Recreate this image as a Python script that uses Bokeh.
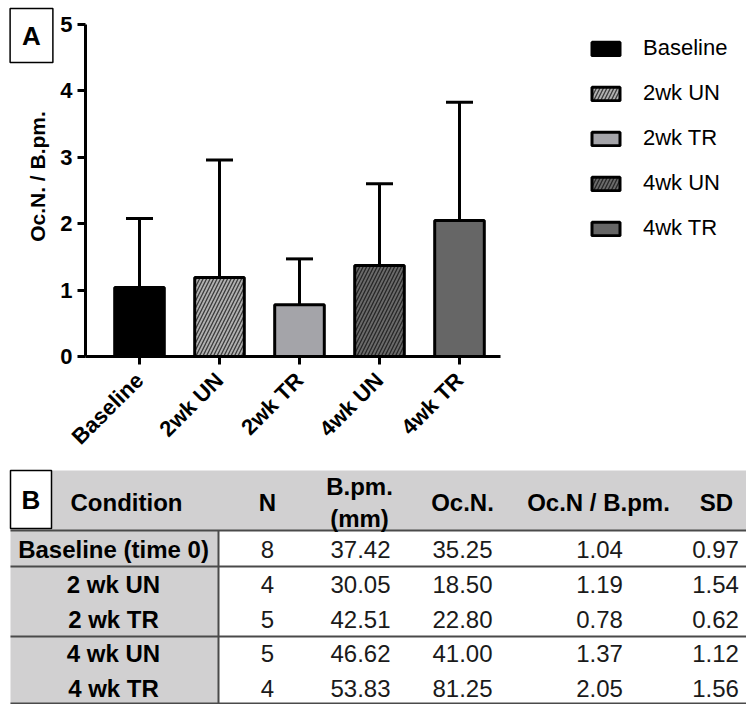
from math import pi
from bokeh.plotting import figure
from bokeh.models import (ColumnDataSource, Range1d, FixedTicker, Whisker, TeeHead,
                          Legend, LegendItem, Label)
from bokeh.embed import file_html
from bokeh.resources import INLINE
from bokeh.core.properties import value

# ---------------- data ----------------
categories = ["Baseline", "2wk UN", "2wk TR", "4wk UN", "4wk TR"]
means = [1.04, 1.19, 0.78, 1.37, 2.05]
err_top = [2.08, 2.96, 1.47, 2.60, 3.83]
y_ticks = [0, 1, 2, 3, 4, 5]

fill_colors = ["#000000", "#b0b0b0", "#a4a4a9", "#6a6a6a", "#666666"]
hatches = [" ", "/", " ", "/", " "]
hatch_colors = ["#000000", "#3a3a3a", "#000000", "#262626", "#000000"]

conditions = ["Baseline (time 0)", "2 wk UN", "2 wk TR", "4 wk UN", "4 wk TR"]
n_vals = [8, 4, 5, 5, 4]
bpm_vals = [37.42, 30.05, 42.51, 46.62, 53.83]
ocn_vals = [35.25, 18.50, 22.80, 41.00, 81.25]
ratio_vals = [1.04, 1.19, 0.78, 1.37, 2.05]
sd_vals = [0.97, 1.54, 0.62, 1.12, 1.56]
headers = ["Condition", "N", "B.pm.\n(mm)", "Oc.N.", "Oc.N / B.pm.", "SD"]

FONT = "Liberation Sans"

# ---------------- chart (A) ----------------
xs = list(range(len(categories)))
src = ColumnDataSource(dict(x=xs, top=means, upper=err_top, fill=fill_colors,
                            hatch=hatches, hcol=hatch_colors))

W, CH = 746, 468
AX_X, AX_Y0, AX_Y5 = 85, 356, 24          # pixel positions of the axes
PX_X = 80.0                               # px per category
PX_Y = (AX_Y0 - AX_Y5) / 5.0              # px per y unit
x0 = -0.675                               # where the y axis sits (data)
xr = Range1d(x0 - AX_X / PX_X, x0 + (W - AX_X) / PX_X)
yr = Range1d(-(CH - AX_Y0) / PX_Y, 5 + AX_Y5 / PX_Y)

p = figure(width=W, height=CH, x_range=xr, y_range=yr,
           toolbar_location=None, output_backend="svg", min_border=0)
p.outline_line_color = None
p.grid.visible = False

r = p.vbar(x="x", top="top", bottom=0, width=0.62, source=src,
           fill_color="fill", hatch_pattern="hatch", hatch_color="hcol",
           hatch_scale=7, hatch_weight=1.3, line_color="black", line_width=3)

wh = Whisker(source=src, base="x", upper="upper", lower="top",
             upper_head=TeeHead(size=27, line_width=3, line_color="black"),
             lower_head=None, line_width=3, line_color="black")
p.add_layout(wh)

for ax in (p.xaxis, p.yaxis):
    ax.axis_line_width = 3
    ax.major_tick_line_width = 3
    ax.major_tick_out = 8
    ax.major_tick_in = 0
    ax.minor_tick_out = 0
    ax.minor_tick_in = 0
    ax.minor_tick_line_color = None
    ax.major_label_text_font = FONT
    ax.major_label_text_font_style = "bold"
    ax.major_label_text_color = "black"

p.yaxis.fixed_location = x0
p.yaxis.bounds = (0, 5)
p.yaxis.ticker = FixedTicker(ticks=y_ticks)
p.yaxis.major_label_text_font_size = "22px"
p.yaxis.major_label_standoff = 5

p.xaxis.fixed_location = 0
p.xaxis.ticker = FixedTicker(ticks=xs)
p.xaxis.major_label_overrides = {i: c for i, c in enumerate(categories)}
p.xaxis.bounds = (x0, len(categories) - 0.49)
p.xaxis.major_label_orientation = pi / 4
p.xaxis.major_label_text_font_size = "22px"
p.xaxis.major_label_standoff = 12

p.add_layout(Label(x=37, y=CH - 176, x_units="screen", y_units="screen",
                   text="Oc.N. / B.pm.", angle=pi / 2, text_align="center",
                   text_baseline="middle", text_font=FONT, text_font_size="21px",
                   text_font_style="bold", text_color="black"))

p.add_layout(Label(x=31, y=CH - 35, x_units="screen", y_units="screen", text="A",
                   text_align="center", text_baseline="middle", text_color="black",
                   text_font=FONT, text_font_size="26px", text_font_style="bold",
                   border_line_color="black", border_line_width=1.5,
                   background_fill_color="white", padding=12))

items = [LegendItem(label=c, renderers=[r], index=i) for i, c in enumerate(categories)]
legend = Legend(items=items, location=(588, 227), glyph_width=35, glyph_height=17,
                label_standoff=20, spacing=19, label_height=25, padding=0, margin=0,
                border_line_color=None, background_fill_alpha=0,
                label_text_font=FONT, label_text_font_size="22px",
                label_text_color="black")
p.add_layout(legend)

# ---------------- table (B) ----------------
t = figure(width=W, height=236, x_range=Range1d(0, W), y_range=Range1d(706, 470),
           toolbar_location=None, output_backend="svg", min_border=0,
           x_axis_type=None, y_axis_type=None)
t.outline_line_color = None
t.grid.visible = False

GRAY = "#d1d0d1"
LINE = "#4a4a4a"
t.quad(left=[10], right=[746], top=[472], bottom=[532], fill_color=GRAY, line_color=None)
t.quad(left=[10], right=[218], top=[532], bottom=[706], fill_color=GRAY, line_color=None)
t.quad(left=[10], right=[51], top=[472], bottom=[530], fill_color="white",
       line_color="black", line_width=1.5)
t.text(x=[30.5], y=[501], text=["B"], text_font=value(FONT), text_font_size="26px",
       text_font_style="bold", text_align="center", text_baseline="middle")

t.segment(x0=[10, 10, 10, 10], x1=[746, 746, 746, 746], y0=[532, 568, 638, 705],
          y1=[532, 568, 638, 705], line_color=LINE, line_width=2)
t.segment(x0=[218], x1=[218], y0=[532], y1=[706], line_color=LINE, line_width=2)

col_x = [126, 267, 359, 462, 598, 716]
val_x = [113, 267, 360, 462, 599, 715]
row_y = [551, 586, 621, 655, 690]

t.text(x=col_x, y=[504] * len(headers), text=headers, text_font=value(FONT),
       text_font_size="24px", text_font_style="bold", text_align="center",
       text_baseline="middle", text_line_height=1.15)

t.text(x=[val_x[0]] * len(conditions), y=row_y, text=conditions, text_font=value(FONT),
       text_font_size="24px", text_font_style="bold", text_align="center",
       text_baseline="middle")

columns = [
    [str(v) for v in n_vals],
    ["%.2f" % v for v in bpm_vals],
    ["%.2f" % v for v in ocn_vals],
    ["%.2f" % v for v in ratio_vals],
    ["%.2f" % v for v in sd_vals],
]
for cx, vals in zip(val_x[1:], columns):
    t.text(x=[cx] * len(vals), y=row_y, text=vals, text_font=value(FONT),
           text_font_size="24px", text_align="center", text_baseline="middle",
           text_color="#1a1a1a")

open("out.html", "w").write(file_html([p, t], INLINE))
